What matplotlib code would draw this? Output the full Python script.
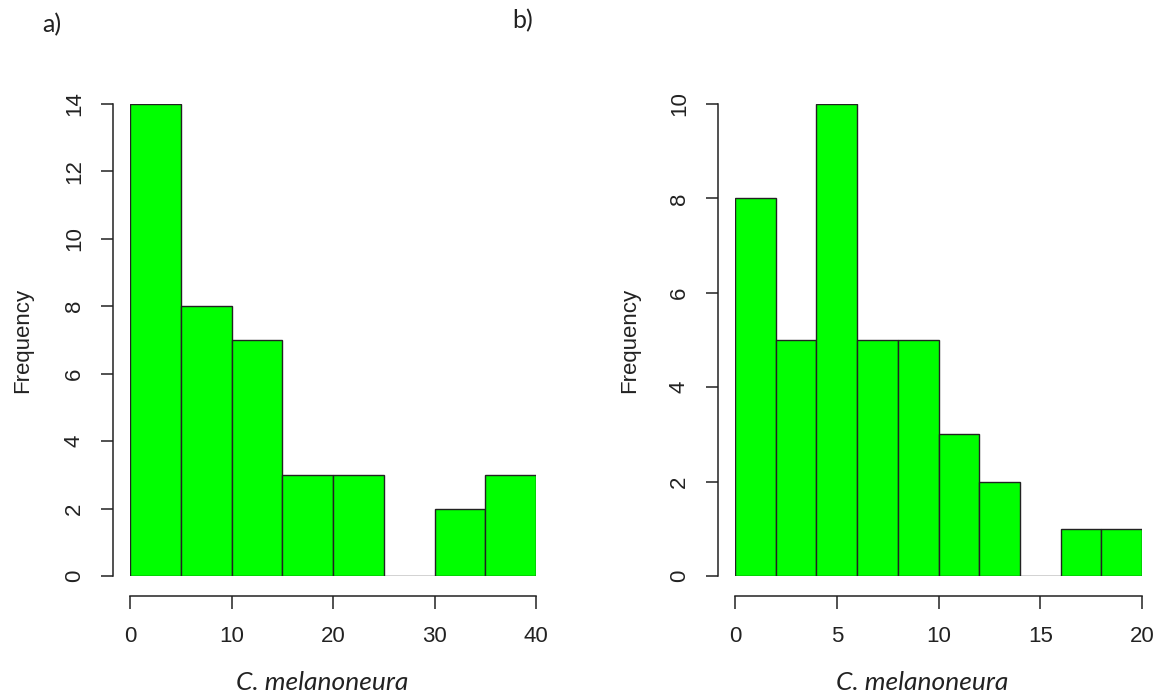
import numpy as np
import matplotlib.pyplot as plt

# histogram data
edges_a = [0, 5, 10, 15, 20, 25, 30, 35, 40]
counts_a = [14, 8, 7, 3, 3, 0, 2, 3]
xticks_a = [0, 10, 20, 30, 40]
yticks_a = [0, 2, 4, 6, 8, 10, 12, 14]

edges_b = [0, 2, 4, 6, 8, 10, 12, 14, 16, 18, 20]
counts_b = [8, 5, 10, 5, 5, 3, 2, 0, 1, 1]
xticks_b = [0, 5, 10, 15, 20]
yticks_b = [0, 2, 4, 6, 8, 10]

xlabel = "C. melanoneura"
W, H = 1159, 698

plt.rcParams['font.family'] = ['Liberation Sans', 'DejaVu Sans']
fig = plt.figure(figsize=(W / 100, H / 100), dpi=100)


def r_hist(rect, edges, counts, xticks, yticks, label_x):
    ax = fig.add_axes(rect)
    edges = np.array(edges, dtype=float)
    ax.bar(edges[:-1], counts, width=np.diff(edges), align='edge',
           color='#00ff00', edgecolor='#222222', linewidth=1.0)
    ax.set_xlim(edges[0], edges[-1])
    ax.set_ylim(0, yticks[-1])
    for s in ['top', 'right']:
        ax.spines[s].set_visible(False)
    ax.spines['bottom'].set_position(('outward', 14.5))
    ax.spines['left'].set_position(('outward', 12.5))
    ax.spines['bottom'].set_bounds(xticks[0], xticks[-1])
    ax.spines['left'].set_bounds(yticks[0], yticks[-1])
    for s in ['bottom', 'left']:
        ax.spines[s].set_color('#222222')
        ax.spines[s].set_linewidth(1.1)
    ax.set_xticks(xticks)
    ax.set_yticks(yticks)
    ax.tick_params(axis='both', length=9, width=1.1, color='#222222',
                   labelsize=16, labelcolor='#222222')
    ax.tick_params(axis='x', pad=12.5)
    ax.tick_params(axis='y', pad=11)
    for t in ax.get_yticklabels():
        t.set_rotation(90)
        t.set_va('center')
    ax.text(label_x, 0.5, "Frequency", transform=ax.transAxes, rotation=90,
            ha='center', va='center', fontsize=16, color='#222222')
    return ax


ax_a = r_hist([130 / W, 122 / H, 406 / W, 472 / H],
              edges_a, counts_a, xticks_a, yticks_a, -0.265)
ax_b = r_hist([735 / W, 122 / H, 407 / W, 472 / H],
              edges_b, counts_b, xticks_b, yticks_b, -0.258)

# the italic axis titles sit a bit left of the panel centres
for cx in [322, 922]:
    fig.text(cx / W, (H - 683) / H, xlabel, ha='center', va='center',
             fontsize=19, style='italic', family=['Lato', 'DejaVu Sans'],
             color='#222222')

fig.text(52 / W, (H - 25) / H, "a)", ha='center', va='center',
         fontsize=18, family=['Lato', 'DejaVu Sans'], color='#222222')
fig.text(523 / W, (H - 21) / H, "b)", ha='center', va='center',
         fontsize=18, family=['Lato', 'DejaVu Sans'], color='#222222')

fig.savefig('out.png', dpi=100)
